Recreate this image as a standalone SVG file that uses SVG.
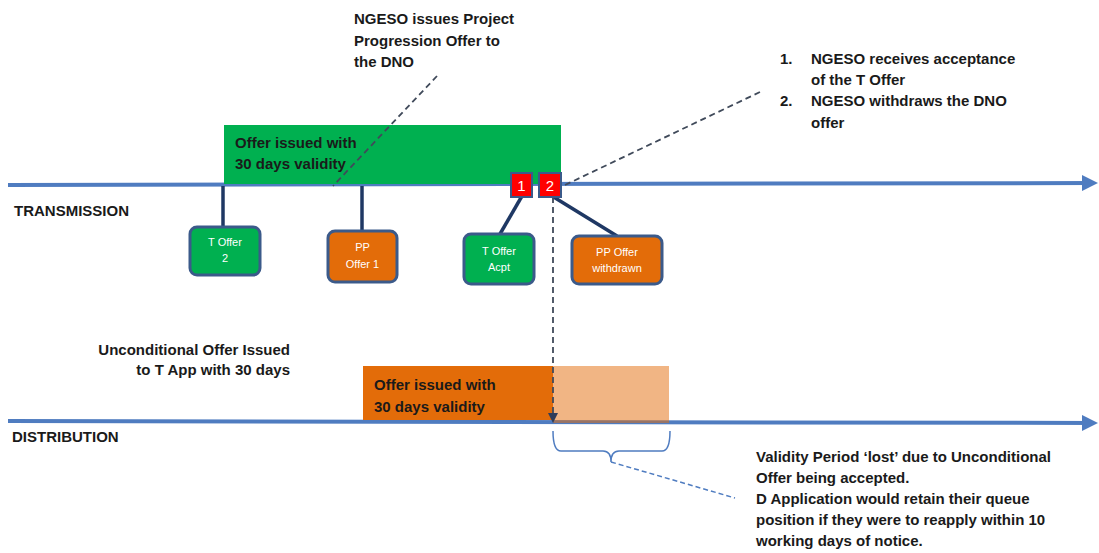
<svg xmlns="http://www.w3.org/2000/svg" width="1099" height="553" viewBox="0 0 1099 553">
<defs>
<marker id="axisArrow" markerWidth="4" markerHeight="4" refX="3" refY="2" orient="auto" markerUnits="strokeWidth"><path d="M0,0 L4,2 L0,4 Z" fill="#4F7CC0"/></marker>
<marker id="dashArrow" markerWidth="10" markerHeight="10" refX="8" refY="5" orient="auto" markerUnits="userSpaceOnUse"><path d="M0,0 L10,5 L0,10 Z" fill="#2F3D5A"/></marker>
<style>
.lbl{font-family:"Liberation Sans",Arial,sans-serif;font-weight:bold;font-size:15px;fill:#1a1a1a}
.node text{font-family:"Liberation Sans",Arial,sans-serif;font-size:11px;fill:#ffffff;text-anchor:middle}
.axis{stroke:#4F7CC0;stroke-width:4;fill:none}
.stem{stroke:#1F3864;stroke-width:3.5;fill:none}
.green{fill:#00B050;stroke:#3B5A8A;stroke-width:3}
.orange{fill:#E36C09;stroke:#3B5A8A;stroke-width:3}
.dash{stroke:#404a5a;stroke-width:1.8;stroke-dasharray:6,4;fill:none}
</style>
</defs>
<rect width="1099" height="553" fill="#ffffff"/>

<g id="transmission-axis">
<line class="axis" x1="8" y1="185" x2="1094" y2="183" marker-end="url(#axisArrow)"/>
<text class="lbl" x="14" y="216">TRANSMISSION</text>
</g>

<g id="green-period">
<rect x="224" y="125" width="337" height="59" fill="#00B050"/>
<text class="lbl" x="235" y="148">Offer issued with</text>
<text class="lbl" x="235" y="169">30 days validity</text>
</g>

<g id="distribution-axis">
<line class="axis" x1="8" y1="421" x2="1094" y2="423" marker-end="url(#axisArrow)"/>
<text class="lbl" x="12" y="442">DISTRIBUTION</text>
</g>

<g id="orange-period">
<rect x="363" y="366" width="190" height="54" fill="#E36C09"/>
<text class="lbl" x="374" y="390">Offer issued with</text>
<text class="lbl" x="374" y="412">30 days validity</text>
</g>
<g id="lost-period">
<rect x="553" y="366" width="116" height="57" fill="#E36C09" fill-opacity="0.5"/>
</g>

<g id="connectors">
<line class="stem" x1="223" y1="186" x2="223" y2="227"/>
<line class="stem" x1="362" y1="186" x2="362" y2="231"/>
<line class="stem" x1="522" y1="196" x2="500" y2="234"/>
<line class="stem" x1="552" y1="196" x2="617" y2="236"/>
<line class="dash" x1="437" y1="76" x2="333" y2="186"/>
<line class="dash" x1="565" y1="185" x2="760" y2="92"/>
<line class="dash" x1="553" y1="197" x2="553" y2="421" marker-end="url(#dashArrow)"/>
<path d="M553,431 Q553,451 561,451 L603,451 Q611,451 611,462 Q611,451 619,451 L662,451 Q670,451 670,431" fill="none" stroke="#4F7CC0" stroke-width="1.5"/>
<line x1="611" y1="462" x2="735" y2="498" stroke="#4F7CC0" stroke-width="1.5" stroke-dasharray="5,3"/>
</g>

<g id="marker-1">
<rect x="511" y="173" width="21" height="24" fill="#FF0000" stroke="#3B5A8A" stroke-width="2"/>
<text x="521.5" y="191" font-family="Liberation Sans,Arial,sans-serif" font-size="15" fill="#fff" text-anchor="middle">1</text>
</g>
<g id="marker-2">
<rect x="539" y="173" width="22" height="24" fill="#FF0000" stroke="#3B5A8A" stroke-width="2"/>
<text x="550" y="191" font-family="Liberation Sans,Arial,sans-serif" font-size="15" fill="#fff" text-anchor="middle">2</text>
</g>

<g id="node-t-offer-2" class="node">
<rect class="green" x="190" y="227" width="70" height="48" rx="7"/>
<text x="225" y="246">T Offer</text>
<text x="225" y="262">2</text>
</g>
<g id="node-pp-offer-1" class="node">
<rect class="orange" x="328" y="231" width="69" height="51" rx="7"/>
<text x="362.5" y="251">PP</text>
<text x="362.5" y="268">Offer 1</text>
</g>
<g id="node-t-offer-acpt" class="node">
<rect class="green" x="464" y="234" width="70" height="50" rx="7"/>
<text x="499" y="255">T Offer</text>
<text x="499" y="271">Acpt</text>
</g>
<g id="node-pp-offer-withdrawn" class="node">
<rect class="orange" x="572" y="236" width="90" height="48" rx="7"/>
<text x="617" y="256">PP Offer</text>
<text x="617" y="272">withdrawn</text>
</g>

<g id="note-top">
<text class="lbl" x="354" y="24">NGESO issues Project</text>
<text class="lbl" x="354" y="46">Progression Offer to</text>
<text class="lbl" x="354" y="67">the DNO</text>
</g>
<g id="note-right">
<text class="lbl" x="780" y="64">1.</text>
<text class="lbl" x="811" y="64">NGESO receives acceptance</text>
<text class="lbl" x="811" y="85">of the T Offer</text>
<text class="lbl" x="780" y="106">2.</text>
<text class="lbl" x="811" y="106">NGESO withdraws the DNO</text>
<text class="lbl" x="811" y="128">offer</text>
</g>
<g id="note-left">
<text class="lbl" x="290" y="355" text-anchor="end">Unconditional Offer Issued</text>
<text class="lbl" x="290" y="375" text-anchor="end">to T App with 30 days</text>
</g>
<g id="note-bottom">
<text class="lbl" x="756" y="462">Validity Period ‘lost’ due to Unconditional</text>
<text class="lbl" x="756" y="483">Offer being accepted.</text>
<text class="lbl" x="756" y="504">D Application would retain their queue</text>
<text class="lbl" x="756" y="525">position if they were to reapply within 10</text>
<text class="lbl" x="756" y="546">working days of notice.</text>
</g>
</svg>
